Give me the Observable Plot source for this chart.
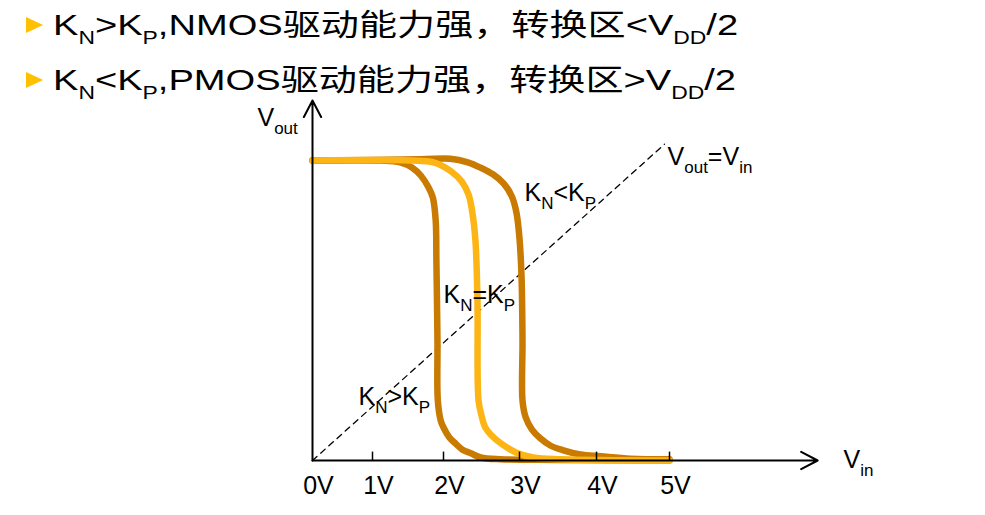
<!DOCTYPE html>
<html>
<head>
<meta charset="utf-8">
<script src="https://cdn.jsdelivr.net/npm/d3@7"></script>
<script src="https://cdn.jsdelivr.net/npm/@observablehq/plot@0.6"></script>
<style>
  body { margin: 0; background: #fff; width: 985px; height: 515px; overflow: hidden;
         font-family: "Liberation Sans", Arial, sans-serif; }
  #title { position: relative; height: 98px; }
  .line { position: absolute; left: 53px; font-size: 30px; line-height: 30px; white-space: nowrap;
          transform: scaleX(1.27); transform-origin: 0 0; color: #000; }
  .cjk { font-family: "Noto Sans CJK SC", sans-serif; }
  .sub { font-size: 18px; position: relative; top: 9px; }
  .bullet { position: absolute; left: 26px; width: 0; height: 0;
            border-left: 17px solid #FFC000; border-top: 8px solid transparent; border-bottom: 8px solid transparent; }
  #chart svg { display: block; }
</style>
</head>
<body>
<div id="title"></div>
<div id="chart"></div>
<script>
// ---- text ----
const titleLines = ["K_{N}>K_{P},NMOS驱动能力强，转换区<V_{DD}/2", "K_{N}<K_{P},PMOS驱动能力强，转换区>V_{DD}/2"];

// ---- axis ticks ----
const tickValues = [0, 1, 2, 3, 4, 5];
const tickLabels = ["0V", "1V", "2V", "3V", "4V", "5V"];
const minorTicks = [1, 2, 3, 4, 5];
const axisXEnd = 7.03;
const axisYEnd = 6.0;

// ---- curves (Vin, Vout) ----
// K_N > K_P (NMOS stronger, switches below VDD/2)
const vinA  = [0, 1.11, 1.39, 1.56, 1.68, 1.79, 1.85, 1.89, 1.90, 1.915, 1.92, 1.96, 2.0, 2.08, 2.16, 2.25, 2.36, 2.49, 2.75, 3.5, 5.0];
const voutA = [5.0, 5.0, 4.97, 4.88, 4.75, 4.55, 4.38, 4.0, 3.33, 2.0, 1.0, 0.67, 0.55, 0.38, 0.28, 0.18, 0.12, 0.05, 0.02, 0.01, 0.0];
// K_N = K_P
const vinB  = [0, 1.53, 1.86, 2.10, 2.24, 2.33, 2.38, 2.42, 2.447, 2.461, 2.50, 2.55, 2.63, 2.76, 2.96, 3.18, 3.53, 5.0];
const voutB = [5.0, 5.0, 4.97, 4.82, 4.65, 4.43, 4.13, 3.67, 2.67, 1.0, 0.75, 0.55, 0.42, 0.28, 0.13, 0.05, 0.02, 0.0];
// K_N < K_P (PMOS stronger, switches above VDD/2)
const vinC  = [0, 1.68, 2.09, 2.32, 2.49, 2.65, 2.79, 2.90, 2.96, 3.0, 3.026, 3.039, 3.039, 3.08, 3.16, 3.27, 3.40, 3.57, 3.79, 4.06, 4.47, 5.0];
const voutC = [5.0, 5.02, 5.03, 4.97, 4.88, 4.77, 4.62, 4.4, 4.13, 3.7, 3.08, 2.0, 1.0, 0.72, 0.52, 0.37, 0.25, 0.17, 0.10, 0.07, 0.03, 0.02];

// ---- reference line Vout = Vin ----
const diagVin  = [0, 4.93];
const diagVout = [0, 5.27];

// ---- annotations ----
const annoText = ["K_{N}<K_{P}", "K_{N}=K_{P}", "K_{N}>K_{P}", "V_{out}=V_{in}", "V_{in}", "V_{out}"];
const annoX    = [3.065, 2.0, 0.767, 4.973, 7.384, -0.917];
const annoY    = [4.333, 2.617, 0.917, 4.917, -0.117, 5.567];

const darkColor = "#C97A00";
const goldColor = "#FDB515";

// ---- title (HTML) ----
const CJK = /[\u3000-\u303f\u4e00-\u9fff\uff00-\uffef]/;
function buildRich(div, str) {
  for (const p of str.split(/(_\{[^}]*\})/)) {
    if (!p) continue;
    if (p.startsWith("_{")) {
      const s = document.createElement("span"); s.className = "sub"; s.textContent = p.slice(2, -1); div.appendChild(s);
    } else {
      for (const run of p.split(/([\u3000-\u303f\u4e00-\u9fff\uff00-\uffef]+)/)) {
        if (!run) continue;
        const s = document.createElement("span");
        if (CJK.test(run)) s.className = "cjk";
        s.textContent = run; div.appendChild(s);
      }
    }
  }
}
const titleEl = document.getElementById("title");
const lineTops = [7, 62];
titleLines.forEach((t, i) => {
  const b = document.createElement("div"); b.className = "bullet"; b.style.top = (lineTops[i] + 10) + "px";
  titleEl.appendChild(b);
  const d = document.createElement("div"); d.className = "line"; d.style.top = lineTops[i] + "px";
  buildRich(d, t); titleEl.appendChild(d);
});

// ---- chart ----
const toPts = (xs, ys) => xs.map((x, i) => ({vin: x, vout: ys[i]}));
const curveA = toPts(vinA, voutA), curveB = toPts(vinB, voutB), curveC = toPts(vinC, voutC);
const diag = toPts(diagVin, diagVout);
const annos = annoText.map((t, i) => ({t, x: annoX[i], y: annoY[i]}));
const tickData = tickValues.map((v, i) => ({v, label: tickLabels[i]}));

const chart = Plot.plot({
  width: 985, height: 417,
  marginTop: 2, marginBottom: 55, marginLeft: 312, marginRight: 316,
  x: {type: "linear", domain: tickValues, range: [312, 372, 443, 519, 596, 669], axis: null},
  y: {type: "linear", domain: [0, 6], range: [362, 2], axis: null},
  style: {fontFamily: "'Liberation Sans', Arial, sans-serif", background: "#fff", overflow: "visible", color: "#000"},
  marks: [
    Plot.line(diag, {x: "vin", y: "vout", stroke: "#000", strokeWidth: 1.3, strokeDasharray: "6,5"}),
    Plot.line(curveA, {x: "vin", y: "vout", stroke: darkColor, strokeWidth: 6.5, curve: "catmull-rom", strokeLinejoin: "round"}),
    Plot.line(curveC, {x: "vin", y: "vout", stroke: darkColor, strokeWidth: 6.5, curve: "catmull-rom", strokeLinejoin: "round"}),
    Plot.line(curveB, {x: "vin", y: "vout", stroke: goldColor, strokeWidth: 6.5, curve: "catmull-rom", strokeLinejoin: "round"}),
    Plot.arrow([{x1: 0, y1: 0, x2: axisXEnd, y2: 0}], {x1: "x1", y1: "y1", x2: "x2", y2: "y2", stroke: "#000", strokeWidth: 2, headLength: 14, headAngle: 55}),
    Plot.arrow([{x1: 0, y1: 0, x2: 0, y2: axisYEnd}], {x1: "x1", y1: "y1", x2: "x2", y2: "y2", stroke: "#000", strokeWidth: 2, headLength: 14, headAngle: 55}),
    Plot.ruleX(minorTicks, {x: d => d, y1: 0, y2: 0.14, stroke: "#000", strokeWidth: 1.5}),
    Plot.text(tickData, {x: "v", y: () => -0.55, text: "label", fontSize: 25, dx: 6, lineAnchor: "bottom", fill: "#000"}),
    Plot.text(annos, {x: "x", y: "y", text: "t", fontSize: 25, textAnchor: "start", lineAnchor: "bottom", fill: "#000"})
  ]
});

// subscripts in SVG text
d3.select(chart).selectAll("text").each(function () {
  const str = this.textContent;
  if (!str.includes("_{")) return;
  const el = d3.select(this);
  el.text(null);
  let shifted = false;
  for (const p of str.split(/(_\{[^}]*\})/)) {
    if (!p) continue;
    if (p.startsWith("_{")) {
      el.append("tspan").attr("font-size", 17).attr("dy", shifted ? 0 : 8).text(p.slice(2, -1));
      shifted = true;
    } else {
      el.append("tspan").attr("dy", shifted ? -8 : 0).text(p);
      shifted = false;
    }
  }
});

document.getElementById("chart").appendChild(chart);
</script>
</body>
</html>
